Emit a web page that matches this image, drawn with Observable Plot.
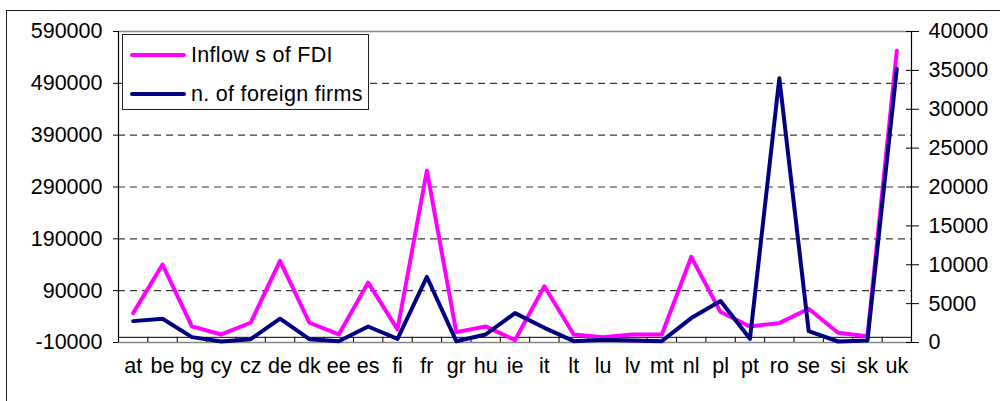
<!DOCTYPE html>
<html><head><meta charset="utf-8">
<script src="https://cdn.jsdelivr.net/npm/d3@7"></script>
<script src="https://cdn.jsdelivr.net/npm/@observablehq/plot@0.6"></script>
<style>
html,body{margin:0;padding:0;background:#fff;overflow:hidden}
#wrap{position:relative;width:1000px;height:401px;font-family:"Liberation Sans",Arial,sans-serif}
#frame{position:absolute;left:6px;top:10px;width:1100px;height:500px;border-left:1.5px solid #222;border-top:1.5px solid #222;pointer-events:none}
#chart{position:absolute;left:0;top:0}
#legend{position:absolute;left:122px;top:34px;width:247px;height:76px;border:1px solid #222;background:#fff;font-size:21.5px;box-sizing:border-box}
.item{position:absolute;left:0;height:24px;width:246px}
.sw{position:absolute;left:7px;top:10px;width:56px;height:4px;border-radius:2px}
.lbl{position:absolute;left:68px;top:0;line-height:24px;white-space:nowrap;color:#000;letter-spacing:0.3px}
</style></head>
<body>
<div id="wrap"><div id="chart"></div><div id="frame"></div><div id="legend"></div></div>
<script>
const cats = ["at","be","bg","cy","cz","de","dk","ee","es","fi","fr","gr","hu","ie","it","lt","lu","lv","mt","nl","pl","pt","ro","se","si","sk","uk"];
const fdi = [46700,140400,21000,5500,28100,147400,28100,5500,105500,15200,321600,10000,21000,-5500,98400,5500,0,5500,5500,155100,48700,21000,27400,55200,8800,2200,553000];
const firms = [2750,3060,690,130,430,3060,430,170,2060,470,8430,170,1030,3780,1890,170,340,260,170,3140,5330,470,34000,1460,130,260,35200];
const seriesNames = ["Inflow s of FDI","n. of foreign firms"];
const seriesColors = ["#FF00FF","#000080"];
const leftTicks = [-10000,90000,190000,290000,390000,490000,590000];
const rightTicks = [0,5000,10000,15000,20000,25000,30000,35000,40000];
const leftDomain = [-10000,590000];
const rightDomain = [0,40000];
const toLeft = v => leftDomain[0] + (v - rightDomain[0]) * (leftDomain[1]-leftDomain[0])/(rightDomain[1]-rightDomain[0]);
const fromLeft = d => rightDomain[0] + (d - leftDomain[0]) * (rightDomain[1]-rightDomain[0])/(leftDomain[1]-leftDomain[0]);
const idx = d3.range(cats.length);
const bounds = d3.range(cats.length+1).map(i => i-0.5);

const plot = Plot.plot({
  width:1000, height:401,
  marginLeft:118, marginRight:89, marginTop:31, marginBottom:59,
  style:{fontFamily:"Liberation Sans, Arial, sans-serif", fontSize:"21px", color:"#000", background:"transparent", overflow:"visible"},
  x:{type:"linear", domain:[-0.5, cats.length-0.5]},
  y:{domain:leftDomain},
  marks:[
    Plot.gridY(leftTicks.slice(1,-1), {stroke:"#222", strokeOpacity:0.9, strokeWidth:1.2, strokeDasharray:"7,5"}),
    Plot.ruleY([leftDomain[1], leftDomain[0]], {stroke:"#888", strokeWidth:1.5}),
    Plot.ruleY([0], {stroke:"#000"}),
    Plot.ruleX(bounds, {x:d=>d, y1:0, y2:leftDomain[0], stroke:"#000"}),
    Plot.ruleX([bounds[0], bounds[bounds.length-1]], {stroke:"#000", strokeWidth:1.2}),
    Plot.axisY({ticks:leftTicks, tickSize:5, tickPadding:11, tickFormat:d=>String(d), label:null, fontSize:21.5}),
    Plot.axisY({anchor:"right", ticks:rightTicks.map(toLeft), tickSize:13, dx:-6, tickFormat:()=>"", label:null}),
    Plot.axisY({anchor:"right", ticks:rightTicks.map(toLeft), tickSize:0, tickPadding:17, tickFormat:d=>String(Math.round(fromLeft(d))), label:null, fontSize:21.5}),
    Plot.axisX({ticks:idx, tickSize:0, tickPadding:15, tickFormat:i=>cats[i], label:null, fontSize:21.5}),
    Plot.line(idx, {x:i=>i, y:i=>fdi[i], stroke:seriesColors[0], strokeWidth:4}),
    Plot.line(idx, {x:i=>i, y:i=>toLeft(firms[i]), stroke:seriesColors[1], strokeWidth:4})
  ]
});
document.getElementById("chart").appendChild(plot);

const legend = document.getElementById("legend");
seriesNames.forEach((n,i)=>{
  const it = document.createElement("div");
  it.className = "item";
  it.style.top = (i===0 ? 8 : 47) + "px";
  it.innerHTML = `<div class="sw" style="background:${seriesColors[i]}"></div><div class="lbl">${n}</div>`;
  legend.appendChild(it);
});
</script>
</body></html>
